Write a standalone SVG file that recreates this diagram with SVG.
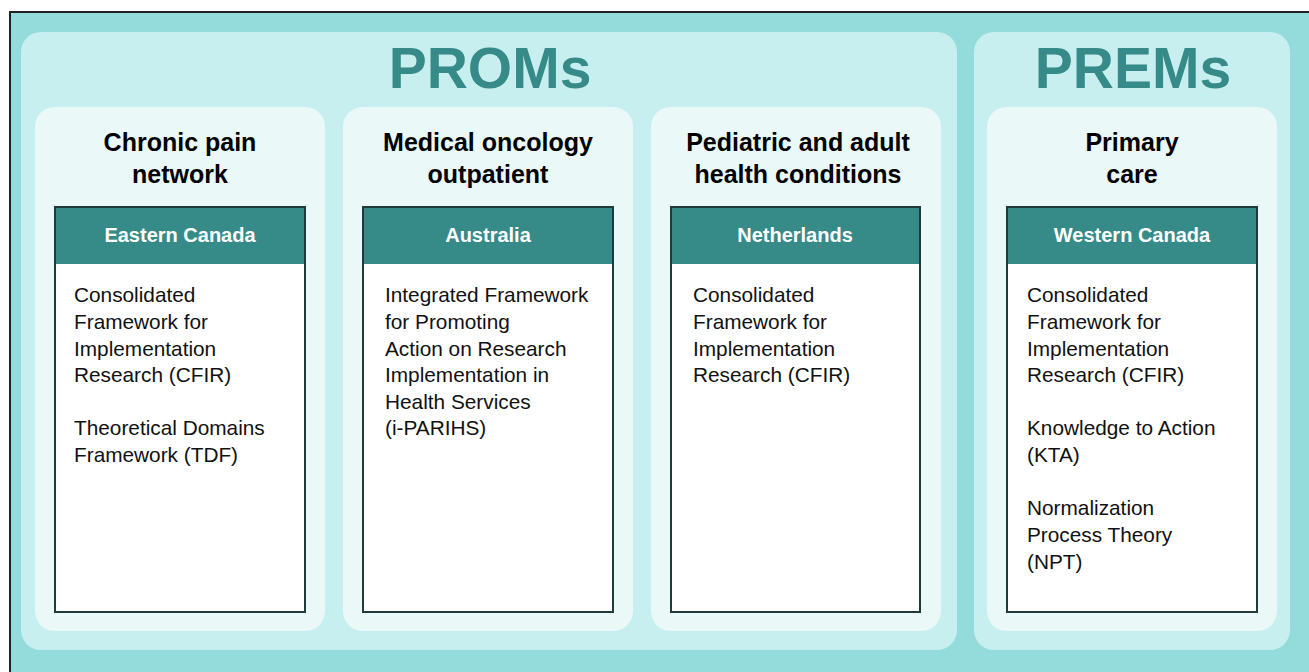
<svg xmlns="http://www.w3.org/2000/svg" width="1309" height="672" viewBox="0 0 1309 672">
<style>
.panel{fill:#c8efef}
.card{fill:#eaf8f8}
.big{font-family:"Liberation Sans",Arial,sans-serif;font-weight:bold;font-size:57px;fill:#368a87;text-anchor:middle}
.title{font-family:"Liberation Sans",Arial,sans-serif;font-weight:bold;font-size:25px;fill:#000;text-anchor:middle}
.box{fill:#fff;stroke:#1f3b39;stroke-width:2}
.hdr{fill:#368a87}
.hdrt{font-family:"Liberation Sans",Arial,sans-serif;font-weight:bold;font-size:20px;fill:#fff;text-anchor:middle}
.body{font-family:"Liberation Sans",Arial,sans-serif;font-size:20.8px;fill:#111}
</style>
<rect x="0" y="0" width="1309" height="672" fill="#fff"/>
<rect x="10" y="12" width="1310" height="670" fill="#93dcdb" stroke="#222" stroke-width="2"/>
<g id="proms">
<rect class="panel" x="21" y="32" width="936" height="618" rx="20"/>
<text class="big" x="490" y="88">PROMs</text>
</g>
<g id="prems">
<rect class="panel" x="974" y="32" width="316" height="618" rx="20"/>
<text class="big" x="1133" y="88">PREMs</text>
</g>
<g id="chronic">
<rect class="card" x="35" y="107" width="290" height="524" rx="20"/>
<text class="title" x="180" y="151">Chronic pain</text>
<text class="title" x="180" y="183">network</text>
<rect class="box" x="55" y="207" width="250" height="405"/>
<rect class="hdr" x="56" y="208" width="248" height="56"/>
<text class="hdrt" x="180" y="242">Eastern Canada</text>
<text class="body"><tspan x="74" y="302">Consolidated</tspan><tspan x="74" y="329">Framework for</tspan><tspan x="74" y="356">Implementation</tspan><tspan x="74" y="382">Research (CFIR)</tspan><tspan x="74" y="435">Theoretical Domains</tspan><tspan x="74" y="462">Framework (TDF)</tspan></text>
</g>
<g id="oncology">
<rect class="card" x="343" y="107" width="290" height="524" rx="20"/>
<text class="title" x="488" y="151">Medical oncology</text>
<text class="title" x="488" y="183">outpatient</text>
<rect class="box" x="363" y="207" width="250" height="405"/>
<rect class="hdr" x="364" y="208" width="248" height="56"/>
<text class="hdrt" x="488" y="242">Australia</text>
<text class="body"><tspan x="385" y="302">Integrated Framework</tspan><tspan x="385" y="329">for Promoting</tspan><tspan x="385" y="356">Action on Research</tspan><tspan x="385" y="382">Implementation in</tspan><tspan x="385" y="409">Health Services</tspan><tspan x="385" y="435">(i-PARIHS)</tspan></text>
</g>
<g id="pediatric">
<rect class="card" x="651" y="107" width="290" height="524" rx="20"/>
<text class="title" x="798" y="151">Pediatric and adult</text>
<text class="title" x="798" y="183">health conditions</text>
<rect class="box" x="671" y="207" width="249" height="405"/>
<rect class="hdr" x="672" y="208" width="247" height="56"/>
<text class="hdrt" x="795" y="242">Netherlands</text>
<text class="body"><tspan x="693" y="302">Consolidated</tspan><tspan x="693" y="329">Framework for</tspan><tspan x="693" y="356">Implementation</tspan><tspan x="693" y="382">Research (CFIR)</tspan></text>
</g>
<g id="primary">
<rect class="card" x="987" y="107" width="290" height="524" rx="20"/>
<text class="title" x="1132" y="151">Primary</text>
<text class="title" x="1132" y="183">care</text>
<rect class="box" x="1007" y="207" width="250" height="405"/>
<rect class="hdr" x="1008" y="208" width="248" height="56"/>
<text class="hdrt" x="1132" y="242">Western Canada</text>
<text class="body"><tspan x="1027" y="302">Consolidated</tspan><tspan x="1027" y="329">Framework for</tspan><tspan x="1027" y="356">Implementation</tspan><tspan x="1027" y="382">Research (CFIR)</tspan><tspan x="1027" y="435">Knowledge to Action</tspan><tspan x="1027" y="462">(KTA)</tspan><tspan x="1027" y="515">Normalization</tspan><tspan x="1027" y="542">Process Theory</tspan><tspan x="1027" y="569">(NPT)</tspan></text>
</g>
<g id="connectors"></g>
</svg>
